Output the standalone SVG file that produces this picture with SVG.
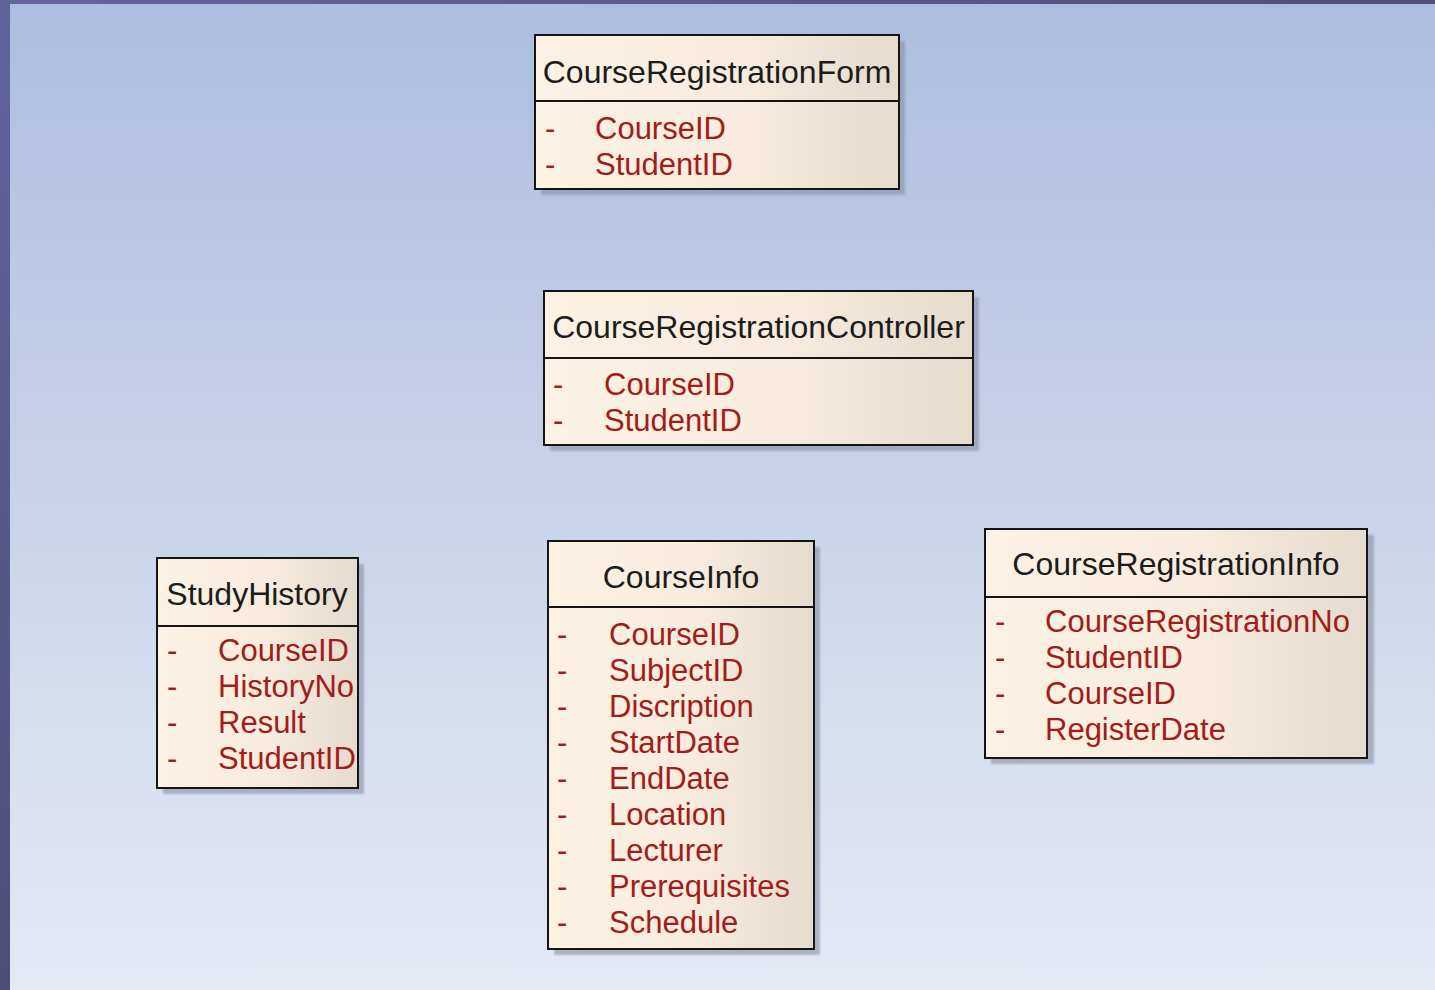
<svg xmlns="http://www.w3.org/2000/svg" width="1435" height="990" viewBox="0 0 1435 990">
  <defs>
    <linearGradient id="bg" x1="0" y1="0" x2="0" y2="1">
      <stop offset="0" stop-color="#acbddf"/>
      <stop offset="1" stop-color="#e5e9f4"/>
    </linearGradient>
    <linearGradient id="edgeLeft" x1="0" y1="0" x2="0" y2="1">
      <stop offset="0" stop-color="#63639b"/>
      <stop offset="1" stop-color="#4e4e78"/>
    </linearGradient>
    <linearGradient id="edgeTop" x1="0" y1="0" x2="1" y2="0">
      <stop offset="0" stop-color="#64649c"/>
      <stop offset="1" stop-color="#4f5079"/>
    </linearGradient>
    <linearGradient id="boxFill" x1="0" y1="0" x2="1" y2="0">
      <stop offset="0" stop-color="#fcf2e4"/>
      <stop offset="0.55" stop-color="#f7ecdd"/>
      <stop offset="1" stop-color="#e5dccd"/>
    </linearGradient>
    <filter id="soft" x="-5%" y="-5%" width="110%" height="110%">
      <feGaussianBlur stdDeviation="1.2"/>
    </filter>
  </defs>
  <style>
    .shadow { fill: #8a8fa4; opacity: 0.6; filter: url(#soft); }
    .box { fill: url(#boxFill); stroke: #151515; stroke-width: 2; }
    .div { stroke: #151515; stroke-width: 2; }
    .title { font-family: "Liberation Sans", Arial, sans-serif; font-size: 32px; fill: #1c1c1c; text-anchor: middle; }
    .attr { font-family: "Liberation Sans", Arial, sans-serif; font-size: 31px; fill: #a31c1c; }
  </style>

  <!-- backdrop -->
  <rect x="0" y="0" width="1435" height="990" fill="url(#bg)"/>
  <rect x="0" y="0" width="10" height="990" fill="url(#edgeLeft)"/>
  <rect x="0" y="0" width="1435" height="4" fill="url(#edgeTop)"/>

  <g id="connectors"></g>

  <!-- CourseRegistrationForm -->
  <g id="CourseRegistrationForm">
    <rect class="shadow" x="541" y="41" width="364" height="154"/>
    <rect class="box" x="535" y="35" width="364" height="154"/>
    <line class="div" x1="535" y1="101" x2="899" y2="101"/>
    <text class="title" x="717" y="83">CourseRegistrationForm</text>
    <text class="attr" x="545" y="139">-</text>
    <text class="attr" x="595" y="139">CourseID</text>
    <text class="attr" x="545" y="175">-</text>
    <text class="attr" x="595" y="175">StudentID</text>
  </g>

  <!-- CourseRegistrationController -->
  <g id="CourseRegistrationController">
    <rect class="shadow" x="550" y="297" width="429" height="154"/>
    <rect class="box" x="544" y="291" width="429" height="154"/>
    <line class="div" x1="544" y1="358" x2="973" y2="358"/>
    <text class="title" x="758.5" y="338">CourseRegistrationController</text>
    <text class="attr" x="553" y="395">-</text>
    <text class="attr" x="604" y="395">CourseID</text>
    <text class="attr" x="553" y="431">-</text>
    <text class="attr" x="604" y="431">StudentID</text>
  </g>

  <!-- StudyHistory -->
  <g id="StudyHistory">
    <rect class="shadow" x="163" y="564" width="201" height="230"/>
    <rect class="box" x="157" y="558" width="201" height="230"/>
    <line class="div" x1="157" y1="626" x2="358" y2="626"/>
    <text class="title" x="257" y="605">StudyHistory</text>
    <text class="attr" x="167" y="661">-</text>
    <text class="attr" x="218" y="661">CourseID</text>
    <text class="attr" x="167" y="697">-</text>
    <text class="attr" x="218" y="697">HistoryNo</text>
    <text class="attr" x="167" y="733">-</text>
    <text class="attr" x="218" y="733">Result</text>
    <text class="attr" x="167" y="769">-</text>
    <text class="attr" x="218" y="769">StudentID</text>
  </g>

  <!-- CourseInfo -->
  <g id="CourseInfo">
    <rect class="shadow" x="554" y="547" width="266" height="408"/>
    <rect class="box" x="548" y="541" width="266" height="408"/>
    <line class="div" x1="548" y1="607" x2="814" y2="607"/>
    <text class="title" x="681" y="588">CourseInfo</text>
    <text class="attr" x="557" y="645">-</text>
    <text class="attr" x="609" y="645">CourseID</text>
    <text class="attr" x="557" y="681">-</text>
    <text class="attr" x="609" y="681">SubjectID</text>
    <text class="attr" x="557" y="717">-</text>
    <text class="attr" x="609" y="717">Discription</text>
    <text class="attr" x="557" y="753">-</text>
    <text class="attr" x="609" y="753">StartDate</text>
    <text class="attr" x="557" y="789">-</text>
    <text class="attr" x="609" y="789">EndDate</text>
    <text class="attr" x="557" y="825">-</text>
    <text class="attr" x="609" y="825">Location</text>
    <text class="attr" x="557" y="861">-</text>
    <text class="attr" x="609" y="861">Lecturer</text>
    <text class="attr" x="557" y="897">-</text>
    <text class="attr" x="609" y="897">Prerequisites</text>
    <text class="attr" x="557" y="933">-</text>
    <text class="attr" x="609" y="933">Schedule</text>
  </g>

  <!-- CourseRegistrationInfo -->
  <g id="CourseRegistrationInfo">
    <rect class="shadow" x="991" y="535" width="383" height="229"/>
    <rect class="box" x="985" y="529" width="382" height="229"/>
    <line class="div" x1="985" y1="597" x2="1367" y2="597"/>
    <text class="title" x="1176" y="575">CourseRegistrationInfo</text>
    <text class="attr" x="995" y="632">-</text>
    <text class="attr" x="1045" y="632">CourseRegistrationNo</text>
    <text class="attr" x="995" y="668">-</text>
    <text class="attr" x="1045" y="668">StudentID</text>
    <text class="attr" x="995" y="704">-</text>
    <text class="attr" x="1045" y="704">CourseID</text>
    <text class="attr" x="995" y="740">-</text>
    <text class="attr" x="1045" y="740">RegisterDate</text>
  </g>
</svg>
